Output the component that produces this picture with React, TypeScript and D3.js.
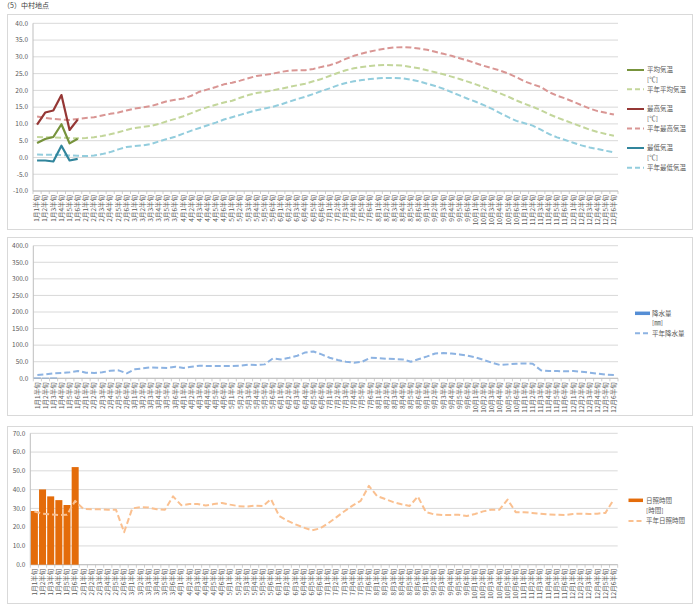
import React from "react";
import * as d3 from "d3";

const months = ["1","2","3","4","5","6","7","8","9","10","11","12"];
const pentads = ["1","2","3","4","5","6"];
const categories: string[] = months.flatMap((m) => pentads.map((p) => `${m}月${p}半旬`));

// Temperature (℃)
const avgTemp = [4.3, 5.5, 6.1, 9.9, 4.2, 5.6];
const normAvgTemp = [
  6.1, 6.0, 6.0, 5.9, 5.8, 5.7,
  5.8, 6.0, 6.4, 6.9, 7.5, 8.2,
  8.8, 9.1, 9.4, 10.0, 10.8, 11.5,
  12.3, 13.2, 14.2, 15.0, 15.7, 16.4,
  16.9, 17.8, 18.6, 19.2, 19.6, 20.0,
  20.5, 21.0, 21.5, 22.0, 22.7, 23.4,
  24.3, 25.2, 26.0, 26.6, 27.0, 27.3,
  27.5, 27.6, 27.5, 27.4, 27.0, 26.6,
  26.0, 25.4, 24.8, 24.1, 23.4, 22.6,
  21.8, 20.9, 20.0, 19.1, 18.1, 17.0,
  16.0, 15.1, 14.1, 12.9, 11.9, 11.0,
  10.1, 9.2, 8.3, 7.6, 7.0, 6.5,
];
const maxTemp = [9.8, 13.4, 14.0, 18.6, 8.2, 11.3];
const normMaxTemp = [
  12.2, 11.8, 11.5, 11.3, 11.2, 11.5,
  11.8, 12.0, 12.5, 13.0, 13.4, 14.0,
  14.6, 14.9, 15.3, 16.0, 16.8, 17.2,
  17.6, 18.4, 19.6, 20.3, 21.0, 21.8,
  22.3, 22.9, 23.6, 24.3, 24.6, 25.0,
  25.5, 25.9, 26.0, 26.0, 26.4, 27.0,
  27.5, 28.3, 29.4, 30.3, 31.0, 31.6,
  32.1, 32.5, 32.8, 32.9, 32.8, 32.5,
  32.1, 31.5, 30.9, 30.3, 29.6, 28.9,
  28.1, 27.3, 26.6, 25.9, 25.0, 23.9,
  22.7, 21.8, 21.0, 19.5, 18.4, 17.6,
  16.6, 15.6, 14.6, 13.8, 13.3, 12.8,
];
const minTemp = [-0.9, -0.9, -1.2, 3.5, -0.9, -0.4];
const normMinTemp = [
  0.9, 0.8, 0.8, 0.7, 0.6, 0.5,
  0.4, 0.6, 1.0, 1.6, 2.4, 3.1,
  3.4, 3.6, 4.0, 4.8, 5.5, 6.2,
  7.1, 8.0, 8.8, 9.6, 10.4, 11.3,
  12.0, 12.7, 13.4, 14.1, 14.6, 15.1,
  15.8, 16.6, 17.4, 18.1, 18.9, 19.8,
  20.6, 21.5, 22.2, 22.7, 23.1, 23.4,
  23.6, 23.7, 23.7, 23.6, 23.2, 22.7,
  22.0, 21.3, 20.5, 19.5, 18.5, 17.5,
  16.6, 15.6, 14.5, 13.2, 12.0, 10.9,
  10.2, 9.5, 8.3, 7.0, 6.0, 5.2,
  4.4, 3.6, 3.0, 2.5, 2.0, 1.5,
];

// Precipitation (mm)
const precip = [2.0, 1.5, 2.0, 0, 0, 0];
const normPrecip = [
  10, 12, 15, 16, 18, 22,
  17, 16, 18, 23, 24, 15,
  27, 30, 33, 32, 31, 35,
  31, 35, 38, 37, 37, 37,
  37, 38, 41, 40, 42, 60,
  57, 62, 68, 78, 81, 72,
  62, 55, 50, 47, 50, 62,
  61, 59, 58, 57, 50, 58,
  66, 75, 76, 75, 72, 68,
  63, 55, 47, 40, 42, 44,
  45, 44, 24, 22, 22, 21,
  22, 20, 17, 14, 11, 10,
];

// Sunshine (hours)
const sunshine = [28.6, 40.1, 36.4, 34.4, 31.8, 52.0];
const normSunshine = [
  28.3, 27.2, 26.8, 26.5, 26.6, 34.0,
  29.7, 29.6, 29.5, 29.3, 29.3, 17.3,
  30.0, 30.7, 30.5, 29.5, 29.3, 36.4,
  31.7, 32.3, 32.3, 31.5, 32.3, 32.9,
  32.0, 31.2, 31.0, 31.5, 31.2, 34.9,
  26.0, 23.5, 21.5, 19.8, 18.3, 19.3,
  22.0, 25.2, 28.5, 31.5, 34.0, 42.0,
  36.6, 35.0, 33.3, 32.2, 31.3, 36.3,
  28.0, 26.8, 26.5, 26.5, 26.6, 25.9,
  27.0, 28.4, 29.3, 29.3, 34.7, 28.0,
  28.0, 27.6, 27.2, 26.8, 26.6, 26.5,
  27.0, 27.2, 27.0, 27.2, 27.6, 34.7,
];

const FONT = "'Noto Sans CJK JP', 'Noto Sans', sans-serif";
const TXT = "#595959";
const GRID = "#d9d9d9";
const AXIS = "#bfbfbf";

type LineSpec = { values: number[]; color: string; dashed: boolean };
type LegendItem = { kind: "line" | "dash" | "bar"; color: string; label: string; sub?: string; y: number; subY?: number };

interface PanelProps {
  box: { x: number; y: number; w: number; h: number };
  plot: { left: number; right: number; top: number; bottom: number };
  domain: [number, number];
  step: number;
  lines: LineSpec[];
  bars?: { values: number[]; color: string };
  legend: LegendItem[];
  legendX: [number, number, number];
}

function Panel({ box, plot, domain, step, lines, bars, legend, legendX }: PanelProps) {
  const x = d3.scaleBand<string>().domain(categories).range([plot.left, plot.right]).paddingInner(0).paddingOuter(0);
  const y = d3.scaleLinear().domain(domain).range([plot.bottom, plot.top]);
  const bw = x.bandwidth();
  const ticks = d3.range(domain[0], domain[1] + step / 2, step);
  const cx = (i: number) => (x(categories[i]) as number) + bw / 2;
  const line = d3
    .line<number>()
    .x((_, i) => cx(i))
    .y((d) => y(d));
  const y0 = y(Math.max(domain[0], 0));
  return (
    <g>
      <rect x={box.x + 0.5} y={box.y + 0.5} width={box.w} height={box.h} fill="#fff" stroke={GRID} strokeWidth={1} />
      {ticks.map((t) => (
        <g key={t}>
          <line x1={plot.left} x2={plot.right} y1={y(t)} y2={y(t)} stroke={GRID} strokeWidth={1} />
          <text x={plot.left - 5} y={y(t)} dy="0.35em" textAnchor="end" fontSize={6.5} fill={TXT} fontFamily={FONT}>
            {t.toFixed(1)}
          </text>
        </g>
      ))}
      <line x1={plot.left} x2={plot.left} y1={plot.top} y2={plot.bottom} stroke={AXIS} strokeWidth={1} />
      <line x1={plot.left} x2={plot.right} y1={plot.bottom} y2={plot.bottom} stroke={AXIS} strokeWidth={1} />
      {categories.map((c, i) => (
        <line key={"t" + c} x1={x(c)} x2={x(c)} y1={plot.bottom} y2={plot.bottom + 3} stroke={AXIS} strokeWidth={0.75} />
      ))}
      <line x1={plot.right} x2={plot.right} y1={plot.bottom} y2={plot.bottom + 3} stroke={AXIS} strokeWidth={0.75} />
      {categories.map((c, i) => (
        <text
          key={"l" + c}
          transform={`translate(${cx(i) + 2.2},${plot.bottom + 4}) rotate(-90)`}
          textAnchor="end"
          fontSize={6.5}
          fill={TXT}
          fontFamily={FONT}
        >
          {c}
        </text>
      ))}
      {bars &&
        bars.values.map((v, i) => (
          <rect
            key={"b" + i}
            x={(x(categories[i]) as number) + bw * 0.07}
            width={bw * 0.86}
            y={Math.min(y(v), y0)}
            height={Math.abs(y0 - y(v))}
            fill={bars.color}
          />
        ))}
      {lines.map((l, k) => (
        <path
          key={"p" + k}
          d={line(l.values) || ""}
          fill="none"
          stroke={l.color}
          strokeWidth={l.dashed ? 2 : 2.2}
          strokeDasharray={l.dashed ? "6,3" : undefined}
          strokeLinejoin="round"
        />
      ))}
      {legend.map((it, k) => (
        <g key={"lg" + k}>
          {it.kind === "bar" ? (
            <rect x={legendX[0]} y={it.y - 1.75} width={legendX[1] - legendX[0]} height={3.5} fill={it.color} />
          ) : (
            <line
              x1={legendX[0]}
              x2={legendX[1]}
              y1={it.y}
              y2={it.y}
              stroke={it.color}
              strokeWidth={2}
              strokeDasharray={it.kind === "dash" ? "5,3" : undefined}
            />
          )}
          <text x={legendX[2]} y={it.y} dy="0.35em" fontSize={6.5} fill={TXT} fontFamily={FONT}>
            {it.label}
          </text>
          {it.sub && (
            <text x={legendX[2]} y={it.subY} dy="0.35em" fontSize={6.5} fill={TXT} fontFamily={FONT}>
              {it.sub}
            </text>
          )}
        </g>
      ))}
    </g>
  );
}

export default function App() {
  return (
    <svg
      width={700}
      height={613}
      viewBox="0 0 700 613"
      style={{ position: "absolute", left: 0, top: 0, background: "#fff" }}
    >
      <rect x={0} y={0} width={700} height={613} fill="#fff" />
      <text x={3} y={6} dy="0.35em" fontSize={7} fill="#404040" fontFamily={FONT}>
        （5）中村地点
      </text>
      <Panel
        box={{ x: 7, y: 14, w: 685, h: 215 }}
        plot={{ left: 33, right: 618, top: 23.3, bottom: 191 }}
        domain={[-10, 40]}
        step={5}
        lines={[
          { values: normAvgTemp, color: "#C3D69B", dashed: true },
          { values: normMaxTemp, color: "#D99694", dashed: true },
          { values: normMinTemp, color: "#93CDDD", dashed: true },
          { values: avgTemp, color: "#77933C", dashed: false },
          { values: maxTemp, color: "#953735", dashed: false },
          { values: minTemp, color: "#31859C", dashed: false },
        ]}
        legend={[
          { kind: "line", color: "#77933C", label: "平均気温", sub: "[℃]", y: 70, subY: 79.3 },
          { kind: "dash", color: "#C3D69B", label: "平年平均気温", y: 89.3 },
          { kind: "line", color: "#953735", label: "最高気温", sub: "[℃]", y: 109, subY: 118.3 },
          { kind: "dash", color: "#D99694", label: "平年最高気温", y: 128.5 },
          { kind: "line", color: "#31859C", label: "最低気温", sub: "[℃]", y: 148, subY: 157.3 },
          { kind: "dash", color: "#93CDDD", label: "平年最低気温", y: 167.8 },
        ]}
        legendX={[627, 644, 647]}
      />
      <Panel
        box={{ x: 7, y: 237, w: 685, h: 178 }}
        plot={{ left: 33.3, right: 618, top: 245.7, bottom: 378.3 }}
        domain={[0, 400]}
        step={50}
        bars={{ values: precip, color: "#558ED5" }}
        lines={[{ values: normPrecip, color: "#8DB3E2", dashed: true }]}
        legend={[
          { kind: "bar", color: "#558ED5", label: "降水量", sub: "[㎜]", y: 313.3, subY: 322.5 },
          { kind: "dash", color: "#8DB3E2", label: "平年降水量", y: 333.3 },
        ]}
        legendX={[635, 650, 652]}
      />
      <Panel
        box={{ x: 7, y: 426, w: 685, h: 177 }}
        plot={{ left: 30.3, right: 617.7, top: 433.3, bottom: 564.7 }}
        domain={[0, 70]}
        step={10}
        bars={{ values: sunshine, color: "#E46C0A" }}
        lines={[{ values: normSunshine, color: "#FAC090", dashed: true }]}
        legend={[
          { kind: "bar", color: "#E46C0A", label: "日照時間", sub: "[時間]", y: 500.3, subY: 510.5 },
          { kind: "dash", color: "#FAC090", label: "平年日照時間", y: 521 },
        ]}
        legendX={[628.5, 643, 646]}
      />
    </svg>
  );
}
